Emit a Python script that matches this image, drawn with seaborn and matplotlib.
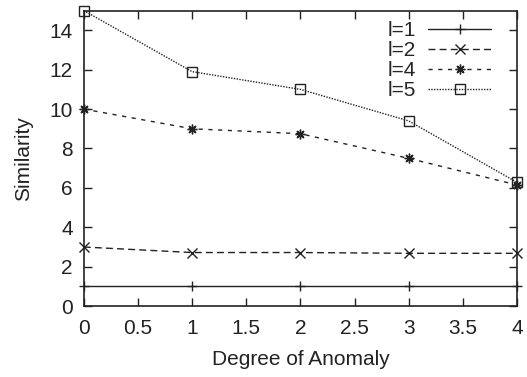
import pandas as pd
import numpy as np
import seaborn as sns
import matplotlib
matplotlib.use("Agg")
import matplotlib.pyplot as plt
from matplotlib.ticker import FormatStrFormatter

# data
degree = [0, 1, 2, 3, 4]
sim_l1 = [1, 1, 1, 1, 1]
sim_l2 = [3.0, 2.72, 2.72, 2.68, 2.68]
sim_l4 = [10.0, 9.0, 8.75, 7.5, 6.15]
sim_l5 = [15.0, 11.9, 11.0, 9.4, 6.28]
labels = ['l=1', 'l=2', 'l=4', 'l=5']

series = [sim_l1, sim_l2, sim_l4, sim_l5]
dashes = ['-', (0, (5, 3)), (0, (3, 4)), (0, (1, 1))]
markers = ['+', 'x', (8, 2, 0), 's']

sns.set_style('ticks')
plt.rcParams['font.family'] = ['Liberation Sans', 'DejaVu Sans']

c = '#222222'
fig, ax = plt.subplots(figsize=(5.27, 3.77), dpi=100)
fig.subplots_adjust(left=0.159, right=0.981, bottom=0.188, top=0.972)

for s, lab, ls, mk in zip(series, labels, dashes, markers):
    df = pd.DataFrame({'degree': degree, 'sim': s})
    sns.lineplot(data=df, x='degree', y='sim', label=lab, color=c,
                 linestyle=ls, marker=mk, markersize=7,
                 markerfacecolor='none', markeredgewidth=1.0,
                 markeredgecolor=c, linewidth=1.0, ax=ax, clip_on=False)

ax.set_xlim(0, 4)
ax.set_ylim(0, 15)
ax.set_xticks(np.arange(0, 4.01, 0.5))
ax.set_yticks(np.arange(0, 15, 2))
ax.xaxis.set_major_formatter(FormatStrFormatter('%g'))
ax.tick_params(direction='in', length=6, width=1.0, top=True, right=True,
               labelsize=15, colors=c)
ax.tick_params(axis='x', pad=9)
ax.tick_params(axis='y', pad=8)
for sp in ax.spines.values():
    sp.set_visible(True)
    sp.set_linewidth(1.2)
    sp.set_color(c)

ax.set_xlabel('Degree of Anomaly', fontsize=15, color=c, labelpad=9)
ax.set_ylabel('Similarity', fontsize=15, color=c, labelpad=12)

h, l = ax.get_legend_handles_labels()
ax.legend(h, l, loc='upper right', bbox_to_anchor=(0.94, 0.965),
          frameon=False, markerfirst=False, fontsize=15,
          handlelength=3.0, labelspacing=0.05, borderpad=0,
          borderaxespad=0, handletextpad=0.6)

fig.savefig('out.png', dpi=100)
